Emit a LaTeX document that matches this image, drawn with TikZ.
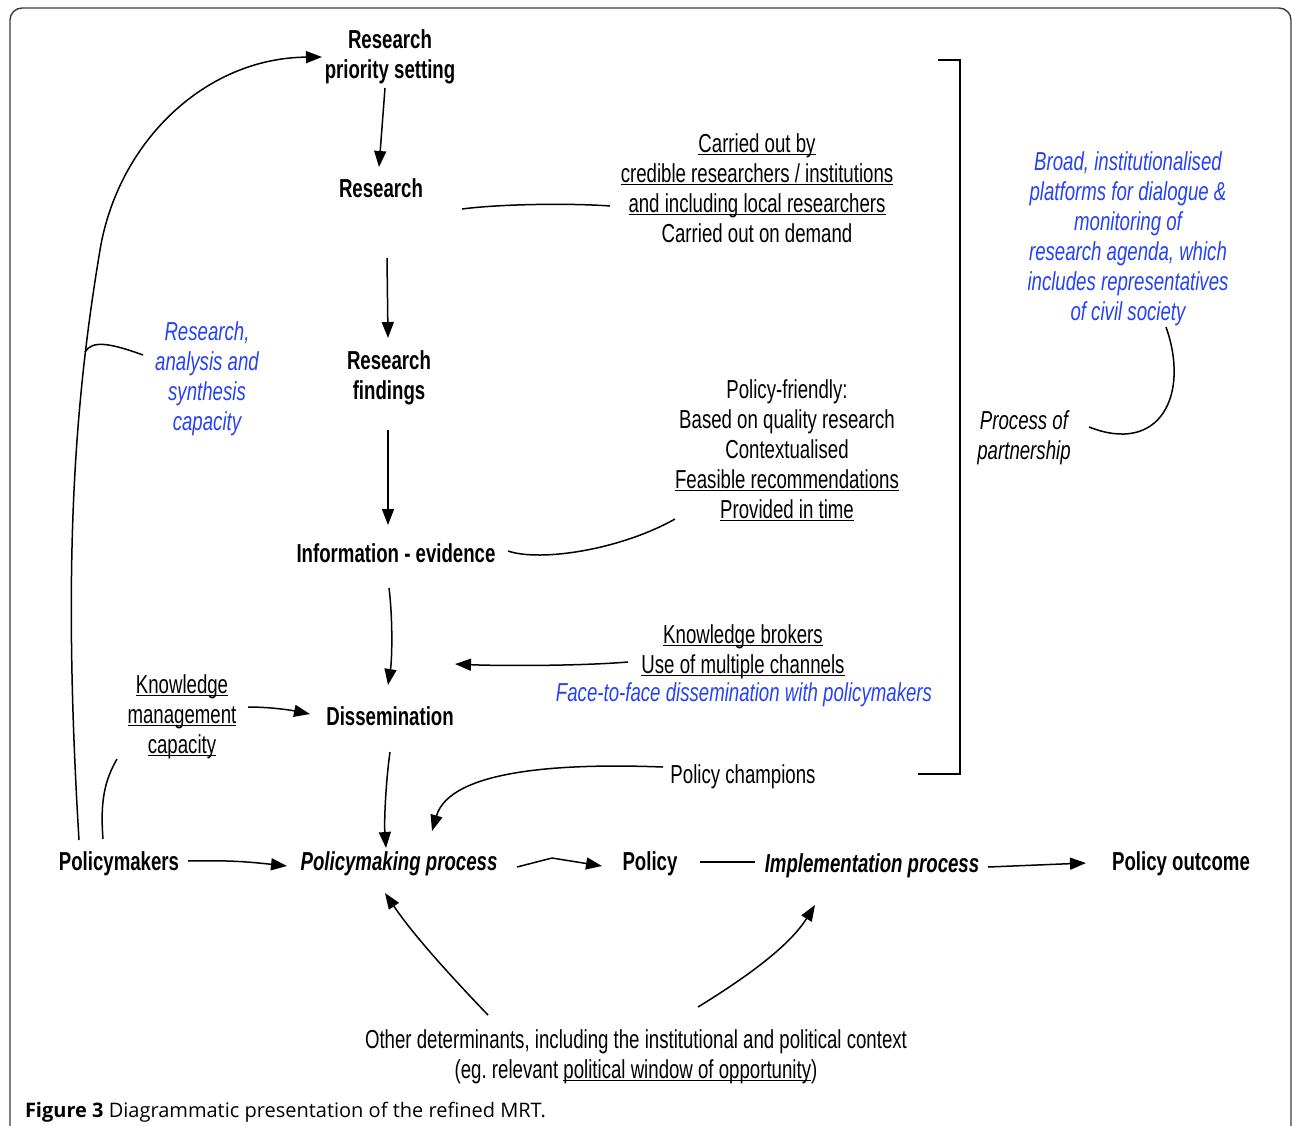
\documentclass[tikz,border=0pt]{standalone}
\usepackage{fontspec}
\setmainfont{Liberation Sans}[FakeStretch=0.717]
\newfontfamily\capfont{Open Sans}
\usetikzlibrary{arrows.meta,calc}
\definecolor{linkblue}{RGB}{38,66,245}
\definecolor{framegray}{RGB}{60,60,60}
\newcommand\ulx[1]{\setbox0\hbox{#1}\rlap{\rule[-2.6pt]{\wd0}{1.1pt}}\box0}
\frenchspacing
\begin{document}
\begin{tikzpicture}[x=1pt,y=-1pt,
  every node/.style={inner sep=0pt, outer sep=0pt},
  plain/.style={align=center, font=\fontsize{26}{30}\selectfont},
  plaini/.style={align=center, font=\fontsize{26}{30}\selectfont\itshape},
  bluei/.style={align=center, text=linkblue, font=\fontsize{26}{30}\selectfont\itshape},
  stage/.style={align=center, font=\fontsize{26}{30}\selectfont\bfseries},
  stagei/.style={align=center, font=\fontsize{26}{30}\selectfont\bfseries\itshape},
  conn/.style={line width=1.5pt, black},
  arr/.style={-{Triangle[length=16pt,width=12pt]}}
]
\useasboundingbox (0,0) rectangle (1292,1125);
\begin{scope}
\clip (0,0) rectangle (1292,1125);
\draw[framegray, line width=1.4pt, rounded corners=12pt] (10,8) rectangle (1291,1170);
\end{scope}

% stages
\node[stage] (rps) at (390,57) {Research\\priority setting};
\node[stage] (res) at (381,188) {Research};
\node[stage] (rf) at (389,378) {Research\\findings};
\node[stage] (info) at (396,553) {Information - evidence};
\node[stage] (dis) at (390,716) {Dissemination};
\node[stage] (pm) at (119,864) {Policymakers};
\node[stagei] (pmp) at (399,864) {Policymaking process};
\node[stage] (pol) at (650,864) {Policy};
\node[stagei] (impl) at (872,866) {Implementation process};
\node[stage] (out) at (1181,864) {Policy outcome};

% annotations
\node[plain] (other) at (636,1057) {Other determinants, including the institutional and political context\\(eg. relevant \ulx{political window of opportunity})};
\node[plain] (carried) at (757,188) {\ulx{Carried out by}\\\ulx{credible researchers / institutions}\\\ulx{and including local researchers}\\Carried out on demand};
\node[plain] (friendly) at (787,450) {Policy-friendly:\\Based on quality research\\Contextualised\\\ulx{Feasible recommendations}\\\ulx{Provided in time}};
\node[plain] (kb) at (743,652) {\ulx{Knowledge brokers}\\\ulx{Use of multiple channels}};
\node[bluei] (f2f) at (744,695) {Face-to-face dissemination with policymakers};
\node[plain] (champ) at (743,777) {Policy champions};
\node[bluei] (broad) at (1128,239) {Broad, institutionalised\\platforms for dialogue \&\\monitoring of\\research agenda, which\\includes representatives\\of civil society};
\node[plaini] (pop) at (1024,438) {Process of\\partnership};
\node[bluei] (rasc) at (207,379) {Research,\\analysis and\\synthesis\\capacity};
\node[plain] (kmc) at (182,717) {\ulx{Knowledge}\\\ulx{management}\\\ulx{capacity}};

\node[anchor=base west, font=\capfont\fontsize{20}{24}\selectfont] (cap) at (25,1117) {\textbf{Figure 3} Diagrammatic presentation of the refined MRT.};

% bracket
\draw[conn] (938,60) -- (960,60) -- (960,774) -- (918,774);

% connectors
\coordinate (branch) at (85,352);
\draw[conn,arr] ($(pm)+(-40,-24)$) .. controls (62,560) and (75,400) .. (100,250) .. controls (118,142) and (205,58) .. ($(rps)+(-68,0)$);
\draw[conn] ($(rasc)+(-64,-24)$) .. controls (110,343) and (92,340) .. (branch);
\draw[conn,arr] ($(rps)+(-5,31)$) -- ($(res)+(-2,-21)$);
\draw[conn,arr] ($(res)+(6,70)$) -- ($(rf)+(-1,-40)$);
\draw[conn,arr] ($(rf)+(-1,52)$) -- ($(info)+(-8,-28)$);
\draw[conn,arr] ($(info)+(-7,35)$) .. controls (393,620) and (392,660) .. ($(dis)+(-2,-31)$);
\draw[conn,arr] ($(dis)+(0,36)$) .. controls (386,780) and (384,820) .. ($(pmp)+(-13,-16)$);
\draw[conn] ($(res)+(81,21)$) .. controls (500,204) and (570,203) .. ($(carried)+(-147,18)$);
\draw[conn] ($(info)+(112,-2)$) .. controls (540,562) and (620,550) .. ($(friendly)+(-112,69)$);
\draw[conn,arr] ($(kb)+(-115,10)$) .. controls (580,666) and (500,666) .. ($(dis)+(65,-52)$);
\draw[conn,arr] ($(kmc)+(66,-10)$) .. controls (270,707) and (290,710) .. ($(dis)+(-80,-2)$);
\draw[conn] ($(pm)+(-16,-25)$) .. controls (100,800) and (105,780) .. ($(kmc)+(-65,42)$);
\draw[conn,arr] ($(champ)+(-80,-10)$) .. controls (560,763) and (450,770) .. ($(pmp)+(33,-33)$);
\draw[conn,arr] ($(pm)+(69,-3)$) .. controls (230,860) and (250,862) .. ($(pmp)+(-112,2)$);
\draw[conn,arr] ($(pmp)+(118,3)$) -- (552,858) -- ($(pol)+(-48,2)$);
\draw[conn] ($(pol)+(50,-2)$) -- ($(impl)+(-117,-4)$);
\draw[conn,arr] ($(impl)+(116,1)$) -- ($(out)+(-95,-1)$);
\draw[conn,arr] ($(other)+(-148,-42)$) .. controls (440,965) and (410,930) .. ($(pmp)+(-14,29)$);
\draw[conn,arr] ($(other)+(62,-50)$) .. controls (750,975) and (790,945) .. ($(impl)+(-57,39)$);
\draw[conn] ($(pop)+(65,-11)$) .. controls (1160,455) and (1190,395) .. ($(broad)+(38,88)$);
\end{tikzpicture}
\end{document}
